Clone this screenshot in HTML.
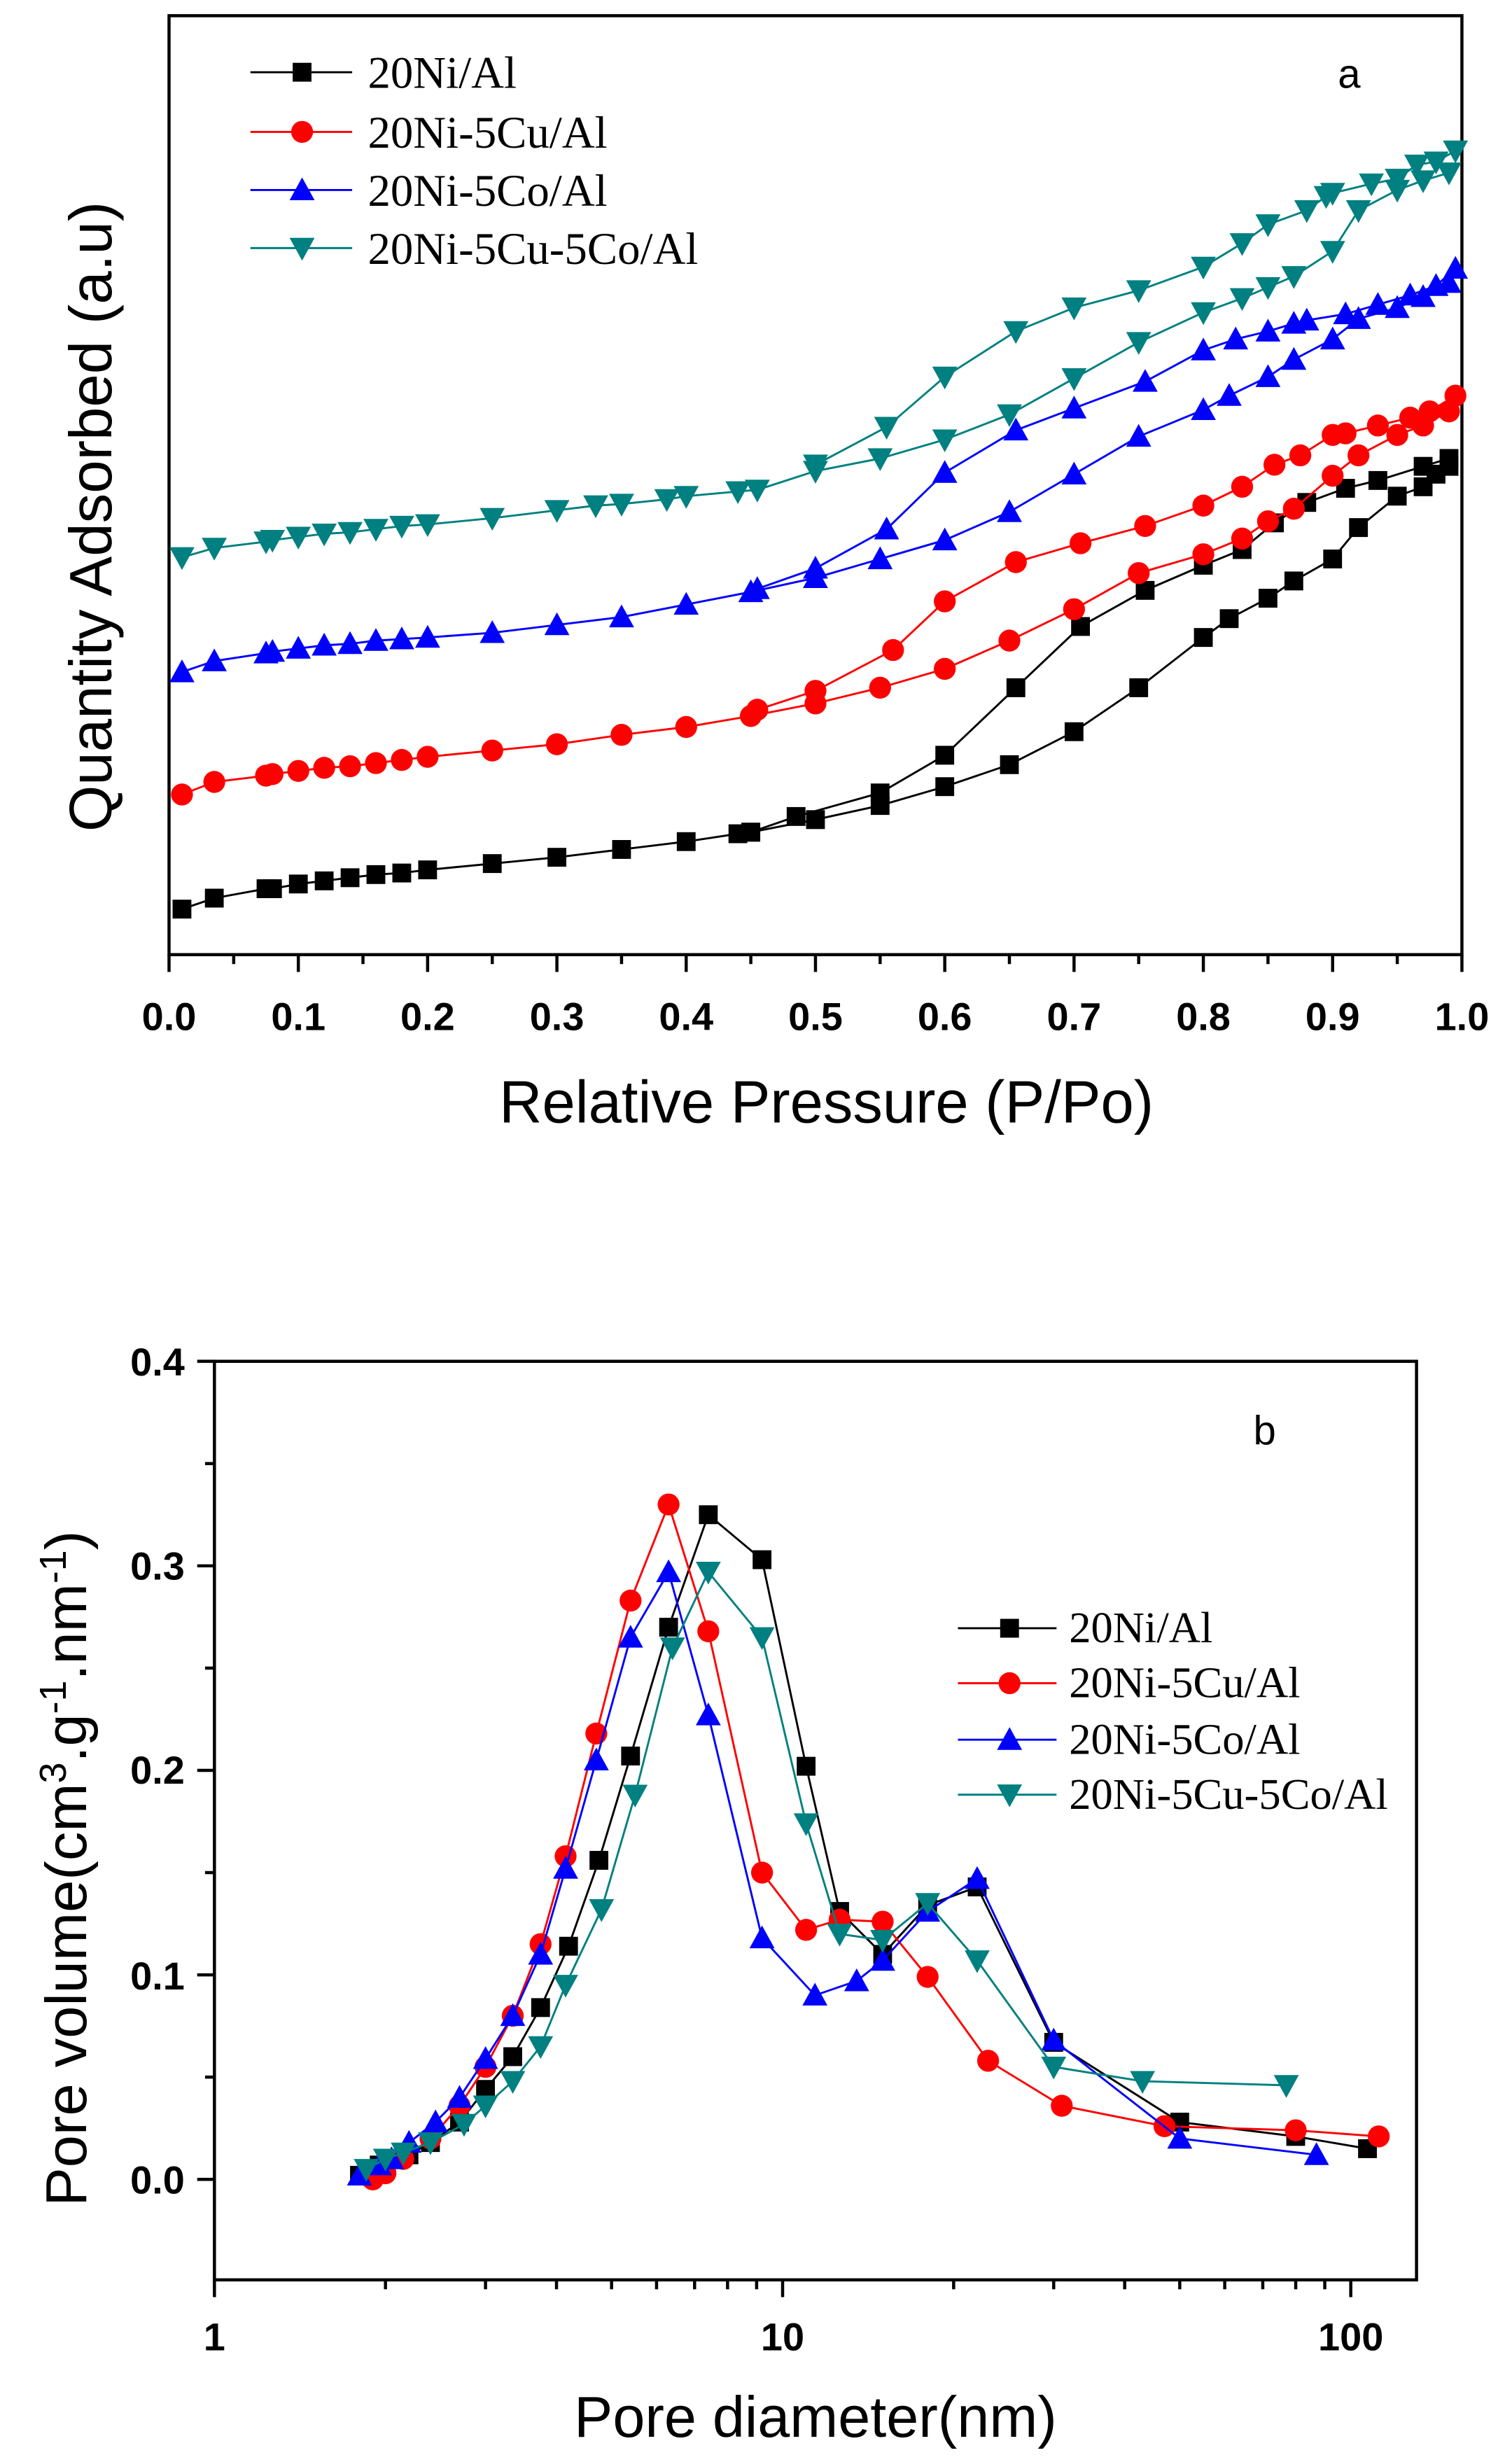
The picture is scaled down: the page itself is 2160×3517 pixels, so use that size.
<!DOCTYPE html>
<html><head><meta charset="utf-8"><style>
html,body{margin:0;padding:0;background:#fff;}
svg{display:block;}
.t{font-family:"Liberation Sans",sans-serif;}
.s{font-family:"Liberation Serif",serif;}
</style></head><body>
<svg id="g" width="2160" height="3517" viewBox="0 0 966 1568" preserveAspectRatio="none" xmlns="http://www.w3.org/2000/svg">
<rect width="966" height="1568" fill="#fff"/>
<rect x="108" y="10" width="826" height="598" fill="none" stroke="#000" stroke-width="2"/>
<g id="ticksA"></g>
<g class="t" font-size="25" font-weight="bold" text-anchor="middle">
<text x="108" y="656">0.0</text><text x="190.6" y="656">0.1</text><text x="273.2" y="656">0.2</text><text x="355.8" y="656">0.3</text><text x="438.4" y="656">0.4</text><text x="521" y="656">0.5</text><text x="603.6" y="656">0.6</text><text x="686.2" y="656">0.7</text><text x="768.8" y="656">0.8</text><text x="851.4" y="656">0.9</text><text x="934" y="656">1.0</text>
</g>
<text class="t" x="528" y="715" font-size="38" text-anchor="middle">Relative Pressure (P/Po)</text>
<text class="t" font-size="38" text-anchor="middle" transform="translate(71,329) rotate(-90)">Quantity Adsorbed (a.u)</text>
<text class="t" x="862" y="56" font-size="26" text-anchor="middle">a</text>
<g class="s" font-size="29">
<text x="235" y="56">20Ni/Al</text><text x="235" y="94">20Ni-5Cu/Al</text><text x="235" y="131">20Ni-5Co/Al</text><text x="235" y="168">20Ni-5Cu-5Co/Al</text>
</g>
<rect x="137" y="867" width="768" height="585" fill="none" stroke="#000" stroke-width="2"/>
<g id="ticksB"></g>
<g class="t" font-size="25" font-weight="bold" text-anchor="end">
<text x="118" y="876">0.4</text><text x="118" y="1006">0.3</text><text x="118" y="1136">0.2</text><text x="118" y="1267">0.1</text><text x="118" y="1397">0.0</text>
</g>
<g class="t" font-size="25" font-weight="bold" text-anchor="middle">
<text x="137" y="1497">1</text><text x="500" y="1497">10</text><text x="863" y="1497">100</text>
</g>
<text class="t" x="521" y="1552" font-size="37" text-anchor="middle">Pore diameter(nm)</text>
<text class="t" font-size="37" text-anchor="middle" transform="translate(55,1190) rotate(-90)">Pore volume(cm<tspan dy="-13" font-size="24">3</tspan><tspan dy="13">.g</tspan><tspan dy="-13" font-size="24">-1</tspan><tspan dy="13">.nm</tspan><tspan dy="-13" font-size="24">-1</tspan><tspan dy="13">)</tspan></text>
<text class="t" x="808" y="920" font-size="26" text-anchor="middle">b</text>
<g class="s" font-size="28">
<text x="683" y="1046">20Ni/Al</text><text x="683" y="1081">20Ni-5Cu/Al</text><text x="683" y="1117">20Ni-5Co/Al</text><text x="683" y="1152">20Ni-5Cu-5Co/Al</text>
</g>
<g id="data"></g>
</svg>
<script>
var NS="http://www.w3.org/2000/svg";
function el(p,n,a){var e=document.createElementNS(NS,n);for(var k in a)e.setAttribute(k,a[k]);p.appendChild(e);return e;}
var tA=document.getElementById("ticksA"),tB=document.getElementById("ticksB"),D=document.getElementById("data");
for(var i=0;i<=20;i++){var x=108+826*i/20;el(tA,"line",{x1:x,y1:608,x2:x,y2:i%2?614:619,stroke:"#000","stroke-width":2});}
for(var i=-1;i<=8;i++){var v=i*0.05;var y=1388-1302.5*v;if(y<867||y>1452)continue;el(tB,"line",{x1:137,y1:y,x2:i%2?131:126,y2:y,stroke:"#000","stroke-width":2});}
for(var d=0;d<3;d++)for(var m=1;m<10;m++){var x=137+363*(d+Math.log10(m));if(x>905)continue;el(tB,"line",{x1:x,y1:1452,x2:x,y2:m==1?1463:1458,stroke:"#000","stroke-width":2});}
function mk(c,type,x,y){
 if(type==0)el(D,"rect",{x:x-6,y:y-6,width:12,height:12,fill:c});
 else if(type==1)el(D,"circle",{cx:x,cy:y,r:7,fill:c});
 else if(type==2)el(D,"polygon",{points:(x)+","+(y-8)+" "+(x-8)+","+(y+6.5)+" "+(x+8)+","+(y+6.5),fill:c});
 else el(D,"polygon",{points:(x)+","+(y+8)+" "+(x-8)+","+(y-6.5)+" "+(x+8)+","+(y-6.5),fill:c});
}
function line(c,pts){el(D,"polyline",{points:pts.map(function(p){return p[0]+","+p[1]}).join(" "),fill:"none",stroke:c,"stroke-width":1.3});}
function series(c,type,pts){line(c,pts);pts.forEach(function(p){mk(c,type,p[0],p[1]);});}
function A(arr){return arr.map(function(p){return [108+826*p[0],p[1]];});}
function B(arr){return arr.map(function(p){return [137+363*Math.log10(p[0]),1388-1302.5*p[1]];});}
var C=["#000","#f00","#00f","#008080"];
var a=[
[[[0.01,579],[0.035,572],[0.075,566],[0.08,566],[0.1,563],[0.12,561],[0.14,559],[0.16,557],[0.18,556],[0.2,554],[0.25,550],[0.3,546],[0.35,541],[0.4,536],[0.44,531],[0.45,530],[0.5,522],[0.55,513],[0.6,501],[0.65,487],[0.7,466],[0.75,438],[0.8,406],[0.82,394],[0.85,381],[0.87,370],[0.9,356],[0.92,336],[0.95,316],[0.97,310],[0.98,302],[0.99,297]],
 [[0.99,292],[0.97,297],[0.935,306],[0.91,311],[0.88,320],[0.855,333],[0.83,350],[0.8,360],[0.755,376],[0.705,399],[0.655,438],[0.6,481],[0.55,505],[0.485,520],[0.45,530]]],
[[[0.01,506],[0.035,498],[0.075,494],[0.08,493],[0.1,491],[0.12,489],[0.14,488],[0.16,486],[0.18,484],[0.2,482],[0.25,478],[0.3,474],[0.35,468],[0.4,463],[0.45,456],[0.5,448],[0.55,438],[0.6,426],[0.65,408],[0.7,388],[0.75,365],[0.8,353],[0.83,343],[0.85,332],[0.87,324],[0.9,303],[0.92,290],[0.95,277],[0.97,271],[0.99,262]],
 [[0.995,252],[0.975,262],[0.96,266],[0.935,271],[0.91,276],[0.9,277],[0.875,290],[0.855,296],[0.83,310],[0.8,322],[0.755,335],[0.705,346],[0.655,358],[0.6,383],[0.56,414],[0.5,440],[0.455,452]]],
[[[0.01,428],[0.035,421],[0.075,416],[0.08,415],[0.1,413],[0.12,411],[0.14,410],[0.16,408],[0.18,407],[0.2,406],[0.25,403],[0.3,398],[0.35,393],[0.4,385],[0.45,377],[0.5,368],[0.55,356],[0.6,344],[0.65,326],[0.7,302],[0.75,278],[0.8,261],[0.82,252],[0.85,240],[0.87,229],[0.9,216],[0.92,203],[0.95,196],[0.97,189],[0.99,180]],
 [[0.995,171],[0.98,182],[0.96,188],[0.935,194],[0.91,200],[0.88,204],[0.87,206],[0.85,211],[0.825,216],[0.8,223],[0.755,243],[0.7,260],[0.655,274],[0.6,301],[0.555,337],[0.5,362],[0.455,375]]],
[[[0.01,355],[0.035,349],[0.075,345],[0.08,344],[0.1,342],[0.12,340],[0.14,339],[0.16,337],[0.18,335],[0.2,334],[0.25,330],[0.3,325],[0.33,322],[0.35,321],[0.385,318],[0.4,316],[0.44,313],[0.455,312],[0.5,300],[0.55,292],[0.6,280],[0.65,264],[0.7,241],[0.75,218],[0.8,199],[0.83,190],[0.85,183],[0.87,176],[0.9,160],[0.92,134],[0.95,121],[0.97,115],[0.99,110]],
 [[0.995,96],[0.98,103],[0.965,105],[0.95,114],[0.93,117],[0.9,123],[0.895,125],[0.88,134],[0.85,143],[0.83,155],[0.8,170],[0.75,185],[0.7,196],[0.655,211],[0.6,240],[0.555,272],[0.5,296]]]
];
a.forEach(function(s,i){series(C[i],i,A(s[0]));series(C[i],i,A(s[1]));});
var b=[
[[1.8,0.002],[1.95,0.007],[2.05,0.01],[2.2,0.012],[2.4,0.018],[2.7,0.028],[3.0,0.044],[3.35,0.06],[3.75,0.084],[4.2,0.114],[4.75,0.156],[5.4,0.207],[6.3,0.27],[7.4,0.325],[9.2,0.303],[11.0,0.202],[12.6,0.131],[15,0.11],[18,0.134],[22,0.143],[30,0.067],[50,0.028],[80,0.021],[107,0.015]],
[[1.85,0.002],[1.9,0.0],[2.0,0.003],[2.15,0.01],[2.4,0.02],[2.7,0.036],[3.0,0.055],[3.35,0.08],[3.75,0.115],[4.15,0.158],[4.7,0.218],[5.4,0.283],[6.3,0.33],[7.4,0.268],[9.2,0.15],[11.0,0.122],[12.6,0.127],[15,0.126],[18,0.099],[23,0.058],[31,0.036],[47,0.026],[80,0.024],[112,0.021]],
[[1.8,0.002],[1.95,0.007],[2.05,0.01],[2.2,0.018],[2.45,0.028],[2.7,0.04],[3.0,0.059],[3.35,0.08],[3.75,0.11],[4.15,0.152],[4.7,0.205],[5.4,0.265],[6.3,0.297],[7.4,0.227],[9.2,0.118],[11.4,0.09],[13.5,0.097],[15,0.107],[18,0.131],[22,0.147],[30,0.068],[50,0.02],[87,0.012]],
[[1.85,0.005],[2.0,0.01],[2.15,0.013],[2.4,0.018],[2.75,0.027],[3.0,0.036],[3.35,0.048],[3.75,0.065],[4.15,0.095],[4.8,0.132],[5.5,0.188],[6.4,0.26],[7.4,0.297],[9.2,0.265],[11.0,0.174],[12.6,0.12],[15,0.117],[18,0.135],[22,0.107],[30,0.055],[43,0.048],[77,0.046]]
];
b.forEach(function(s,i){series(C[i],i,B(s));});
var la=[46,84,121,158],lb=[1037,1072,1108,1143];
for(var i=0;i<4;i++){line(C[i],[[160,la[i]],[225,la[i]]]);mk(C[i],i,193,la[i]);
 line(C[i],[[612,lb[i]],[675,lb[i]]]);mk(C[i],i,645,lb[i]);}
</script>
</body></html>
